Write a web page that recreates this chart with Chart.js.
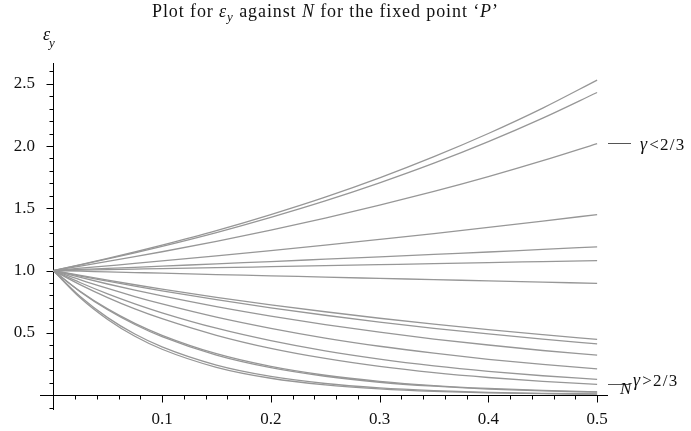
<!DOCTYPE html>
<html>
<head>
<meta charset="utf-8">
<script src="https://cdn.jsdelivr.net/npm/chart.js@4.4.1/dist/chart.umd.min.js"></script>
<style>
  html, body { margin: 0; padding: 0; background: #fff; }
  #wrap { width: 691px; height: 431px; position: relative; }
</style>
</head>
<body>
<div id="wrap"><canvas id="c" width="691" height="431"></canvas></div>
<script>
// ---- data ----
const nValues = [0, 0.025, 0.05, 0.075, 0.1, 0.15, 0.2, 0.25, 0.3, 0.35, 0.4, 0.45, 0.5];

const curveU1 = [1, 1.047, 1.097, 1.149, 1.204, 1.321, 1.450, 1.590, 1.745, 1.915, 2.101, 2.305, 2.530];
const curveU2 = [1, 1.045, 1.093, 1.142, 1.194, 1.305, 1.427, 1.559, 1.704, 1.862, 2.035, 2.224, 2.430];
const curveU3 = [1, 1.036, 1.073, 1.111, 1.151, 1.235, 1.325, 1.421, 1.525, 1.636, 1.755, 1.883, 2.020];
const curveU4 = [1, 1.019, 1.038, 1.057, 1.077, 1.118, 1.160, 1.204, 1.250, 1.297, 1.346, 1.397, 1.450];
const curveU5 = [1, 1.009, 1.018, 1.026, 1.035, 1.054, 1.072, 1.091, 1.110, 1.130, 1.149, 1.170, 1.190];
const curveU6 = [1, 1.004, 1.008, 1.012, 1.016, 1.023, 1.031, 1.039, 1.047, 1.055, 1.064, 1.072, 1.080];
const curveU7 = [1, 0.995, 0.989, 0.984, 0.979, 0.968, 0.958, 0.947, 0.937, 0.927, 0.917, 0.907, 0.897];
const curveL1 = [1, 0.961, 0.923, 0.886, 0.851, 0.785, 0.725, 0.669, 0.617, 0.569, 0.525, 0.485, 0.447];
const curveL2 = [1, 0.956, 0.915, 0.875, 0.837, 0.766, 0.701, 0.641, 0.586, 0.536, 0.491, 0.449, 0.411];
const curveL3 = [1, 0.945, 0.892, 0.843, 0.796, 0.710, 0.634, 0.566, 0.505, 0.450, 0.402, 0.358, 0.320];
const curveL4 = [1, 0.925, 0.856, 0.791, 0.732, 0.626, 0.536, 0.458, 0.392, 0.336, 0.287, 0.246, 0.210];
const curveL5 = [1, 0.902, 0.813, 0.733, 0.661, 0.537, 0.437, 0.355, 0.289, 0.235, 0.191, 0.155, 0.126];
const curveL6 = [1, 0.885, 0.783, 0.692, 0.613, 0.480, 0.375, 0.294, 0.230, 0.180, 0.141, 0.110, 0.086];
const curveL7 = [1, 0.832, 0.692, 0.576, 0.480, 0.332, 0.230, 0.159, 0.110, 0.076, 0.053, 0.037, 0.025];
const curveL8 = [1, 0.828, 0.685, 0.567, 0.469, 0.321, 0.220, 0.151, 0.103, 0.071, 0.048, 0.033, 0.023];
const curveL9 = [1, 0.789, 0.622, 0.490, 0.387, 0.241, 0.150, 0.093, 0.058, 0.036, 0.022, 0.014, 0.009];
const curveL10 = [1, 0.779, 0.607, 0.472, 0.368, 0.223, 0.135, 0.082, 0.050, 0.030, 0.018, 0.011, 0.007];

const xTickValues = [0.1, 0.2, 0.3, 0.4, 0.5];
const yTickValues = [0.5, 1.0, 1.5, 2.0, 2.5];

const allCurves = [curveU1, curveU2, curveU3, curveU4, curveU5, curveU6, curveU7,
  curveL1, curveL2, curveL3, curveL4, curveL5, curveL6, curveL7, curveL8, curveL9, curveL10];

// ---- styling ----
const SERIF = '"Liberation Serif", "DejaVu Serif", serif';
const LINE_COLOR = '#979797';

const datasets = allCurves.map(arr => ({
  data: nValues.map((n, i) => ({ x: n, y: arr[i] })),
  borderColor: LINE_COLOR,
  borderWidth: 1.3,
  pointRadius: 0,
  fill: false,
  cubicInterpolationMode: 'monotone',
  clip: false
}));

// draw text made of styled parts, char by char with extra spacing
function drawRich(ctx, parts, x, y, spacing) {
  let cx = x;
  const sp = spacing || 0;
  for (const p of parts) {
    ctx.font = p.font;
    for (const ch of p.t) {
      ctx.fillText(ch, cx, y + (p.dy || 0));
      cx += ctx.measureText(ch).width + sp;
    }
    cx += (p.after || 0);
  }
  return cx;
}
function richWidth(ctx, parts) {
  let w = 0, n = 0;
  for (const p of parts) {
    ctx.font = p.font;
    for (const ch of p.t) { w += ctx.measureText(ch).width; n++; }
    w += (p.after || 0);
  }
  return { w, n };
}

const axesPlugin = {
  id: 'axesPlugin',
  beforeDatasetsDraw(chart) {
    const { ctx, scales: { x, y } } = chart;
    const x0 = Math.round(x.getPixelForValue(0)) + 0.5;
    const y0 = Math.round(y.getPixelForValue(0)) + 0.5;
    ctx.save();
    ctx.strokeStyle = '#000';
    ctx.lineWidth = 1;
    ctx.beginPath();
    ctx.moveTo(x.left, y0); ctx.lineTo(x.right, y0);
    ctx.moveTo(x0, y.top); ctx.lineTo(x0, y.bottom);
    for (let k = 1; k <= 25; k++) {
      const v = k * 0.02;
      const px = Math.round(x.getPixelForValue(v)) + 0.5;
      const major = k % 5 === 0;
      ctx.moveTo(px, y0); ctx.lineTo(px, y0 + (major ? 7 : 4));
    }
    for (let k = -1; k <= 26; k++) {
      if (k === 0) continue;
      const v = k * 0.1;
      const py = Math.round(y.getPixelForValue(v)) + 0.5;
      const major = k % 5 === 0;
      ctx.moveTo(x0, py); ctx.lineTo(x0 - (major ? 7 : 4), py);
    }
    ctx.stroke();
    ctx.restore();
  },
  afterDraw(chart) {
    const { ctx } = chart;
    ctx.save();
    ctx.fillStyle = '#111';
    ctx.textBaseline = 'alphabetic';
    ctx.textAlign = 'left';
    // title, spread to the reference width
    const sz = 18;
    const n = `${sz}px ${SERIF}`, it = `italic ${sz}px ${SERIF}`, sub = `italic ${Math.round(sz*0.72)}px ${SERIF}`;
    const titleParts = [
      { t: 'Plot for ', font: n },
      { t: 'ε', font: it },
      { t: 'y', font: sub, dy: 4 },
      { t: ' against ', font: n },
      { t: 'N', font: it },
      { t: ' for the fixed point ‘', font: n },
      { t: 'P', font: it },
      { t: '’', font: n }
    ];
    const target = 346;
    const m = richWidth(ctx, titleParts);
    const sp = Math.max(0, (target - m.w) / (m.n - 1));
    drawRich(ctx, titleParts, 325 - target / 2, 17, sp);
    // y-axis label
    drawRich(ctx, [
      { t: 'ε', font: `italic 18px ${SERIF}`, after: -1 },
      { t: 'y', font: `italic 13px ${SERIF}`, dy: 7 }
    ], 43, 40);
    // annotations
    ctx.strokeStyle = '#555';
    ctx.lineWidth = 1;
    ctx.beginPath();
    ctx.moveTo(608, 143.5); ctx.lineTo(631, 143.5);
    ctx.moveTo(608, 384.5); ctx.lineTo(630, 384.5);
    ctx.stroke();
    drawRich(ctx, [
      { t: 'γ', font: `italic 18px ${SERIF}`, after: 1 },
      { t: '<2/3', font: `17px ${SERIF}` }
    ], 640, 150, 1.2);
    // x-axis label N
    ctx.font = `italic 17px ${SERIF}`;
    ctx.fillText('N', 620, 394);
    drawRich(ctx, [
      { t: 'γ', font: `italic 18px ${SERIF}`, after: 1 },
      { t: '>2/3', font: `17px ${SERIF}` }
    ], 633, 386, 1.2);
    ctx.restore();
  }
};

new Chart(document.getElementById('c'), {
  type: 'line',
  data: { datasets },
  options: {
    responsive: false,
    animation: false,
    events: [],
    layout: { padding: { top: 63, right: 83, left: 0, bottom: 0 } },
    plugins: { legend: { display: false }, tooltip: { enabled: false }, title: { display: false } },
    scales: {
      x: {
        type: 'linear',
        min: -0.0122,
        max: 0.51,
        grid: { display: false, drawTicks: false },
        border: { display: false },
        afterBuildTicks: s => { s.ticks = xTickValues.map(v => ({ value: v })); },
        afterFit: s => { s.height = 21; },
        ticks: {
          padding: -1,
          color: '#111',
          font: { family: SERIF, size: 17 },
          maxRotation: 0,
          autoSkip: false,
          callback: v => Number(v).toFixed(1)
        }
      },
      y: {
        type: 'linear',
        min: -0.12,
        max: 2.667,
        grid: { display: false, drawTicks: false },
        border: { display: false },
        afterBuildTicks: s => { s.ticks = yTickValues.map(v => ({ value: v })); },
        afterFit: s => { s.width = 40; },
        ticks: {
          padding: 5,
          color: '#111',
          font: { family: SERIF, size: 17 },
          autoSkip: false,
          callback: v => Number(v).toFixed(1)
        }
      }
    }
  },
  plugins: [axesPlugin]
});
</script>
</body>
</html>
